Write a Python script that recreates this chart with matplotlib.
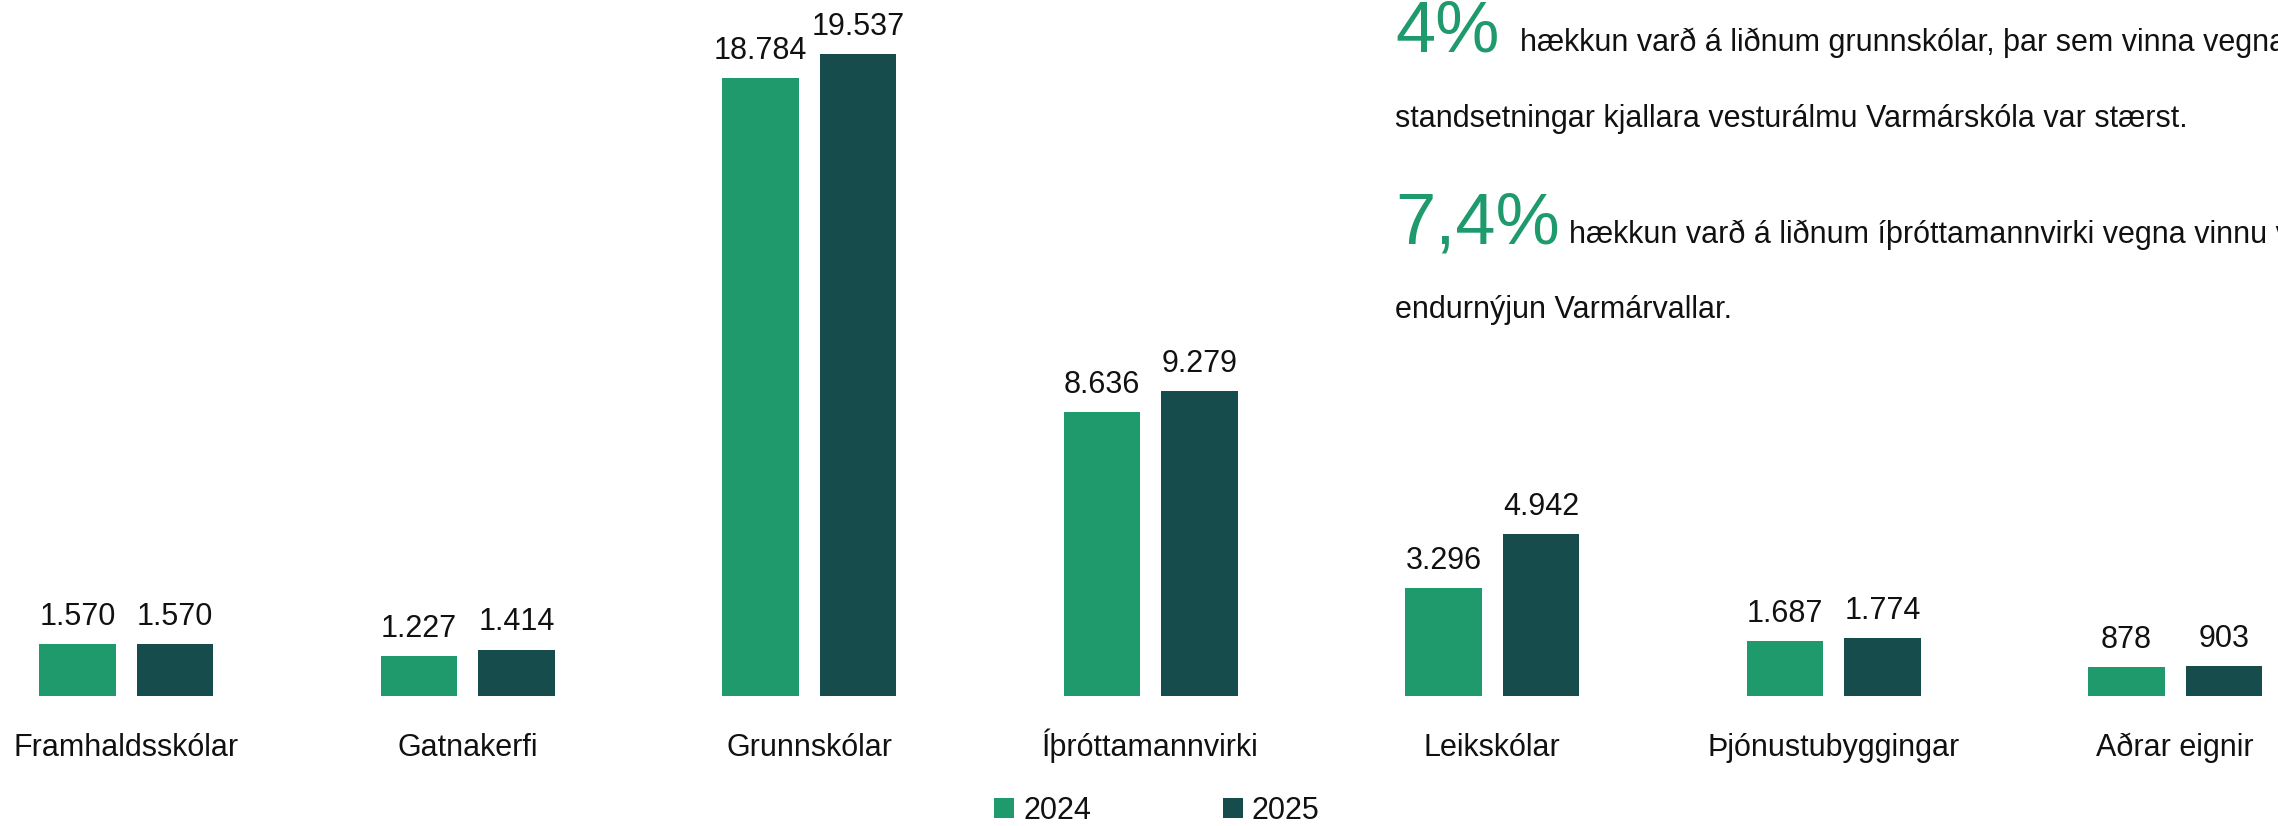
import matplotlib
matplotlib.use("Agg")
import matplotlib.pyplot as plt
from matplotlib.transforms import blended_transform_factory
import numpy as np

plt.rcParams['font.family'] = ['Liberation Sans', 'DejaVu Sans']

# Data
categories = ["Framhaldsskólar", "Gatnakerfi", "Grunnskólar", "Íþróttamannvirki",
              "Leikskólar", "Þjónustubyggingar", "Aðrar eignir"]
values_2024 = [1570, 1227, 18784, 8636, 3296, 1687, 878]
values_2025 = [1570, 1414, 19537, 9279, 4942, 1774, 903]
series_labels = ["2024", "2025"]
labels_2024 = ["1.570", "1.227", "18.784", "8.636", "3.296", "1.687", "878"]
labels_2025 = ["1.570", "1.414", "19.537", "9.279", "4.942", "1.774", "903"]

highlight_1 = "4%"
text_1 = ["hækkun varð á liðnum grunnskólar, þar sem vinna vegna",
          "standsetningar kjallara vesturálmu Varmárskóla var stærst."]
highlight_2 = "7,4%"
text_2 = ["hækkun varð á liðnum íþróttamannvirki vegna vinnu við",
          "endurnýjun Varmárvallar."]

# Styling
C2024 = "#1f9a6c"
C2025 = "#164d4c"
TXT = "#111111"
FS = 22
W, H, DPI = 2278, 826, 100

fig = plt.figure(figsize=(W / DPI, H / DPI), dpi=DPI)
ax = fig.add_axes([0, 0, 1, 1])

x = np.arange(len(categories))
bw = 0.2246
off = 0.1426
b1 = ax.bar(x - off, values_2024, bw, color=C2024, label=series_labels[0])
b2 = ax.bar(x + off, values_2025, bw, color=C2025, label=series_labels[1])

ax.set_xlim(-0.3698, 6.3007)
ax.set_ylim(-3954, 21171)
ax.axis("off")

# value labels above bars
for bars, labs in ((b1, labels_2024), (b2, labels_2025)):
    for rect, lab in zip(bars, labs):
        ax.annotate(lab, (rect.get_x() + rect.get_width() / 2, rect.get_height()),
                    xytext=(0, 13.7), textcoords="offset points",
                    ha="center", va="baseline", fontsize=FS, color=TXT)

# category labels
trans = blended_transform_factory(ax.transData, fig.transFigure)
for xi, cat in zip(x, categories):
    ax.text(xi, 70 / H, cat, transform=trans, ha="center", va="baseline",
            fontsize=FS, color=TXT)

# legend
leg = ax.legend(handles=[b1, b2], loc="center", bbox_to_anchor=(1157 / W, 15 / H),
                bbox_transform=fig.transFigure, ncol=2, frameon=False,
                fontsize=FS, handlelength=0.65, handleheight=0.65,
                handletextpad=0.3, columnspacing=4.3, borderpad=0, borderaxespad=0)
for t in leg.get_texts():
    t.set_color(TXT)

# annotation block on the right
def px(xp, yp):
    return xp / W, 1 - yp / H

fig.text(*px(1395, 51), highlight_1, fontsize=52, color=C2024, va="baseline", ha="left")
fig.text(*px(1520, 51), text_1[0], fontsize=FS, color=TXT, va="baseline", ha="left")
fig.text(*px(1395, 127), text_1[1], fontsize=FS, color=TXT, va="baseline", ha="left")
fig.text(*px(1395, 243), highlight_2, fontsize=52, color=C2024, va="baseline", ha="left")
fig.text(*px(1569, 243), text_2[0], fontsize=FS, color=TXT, va="baseline", ha="left")
fig.text(*px(1395, 318), text_2[1], fontsize=FS, color=TXT, va="baseline", ha="left")

fig.savefig("out.png", dpi=DPI, facecolor="white")
